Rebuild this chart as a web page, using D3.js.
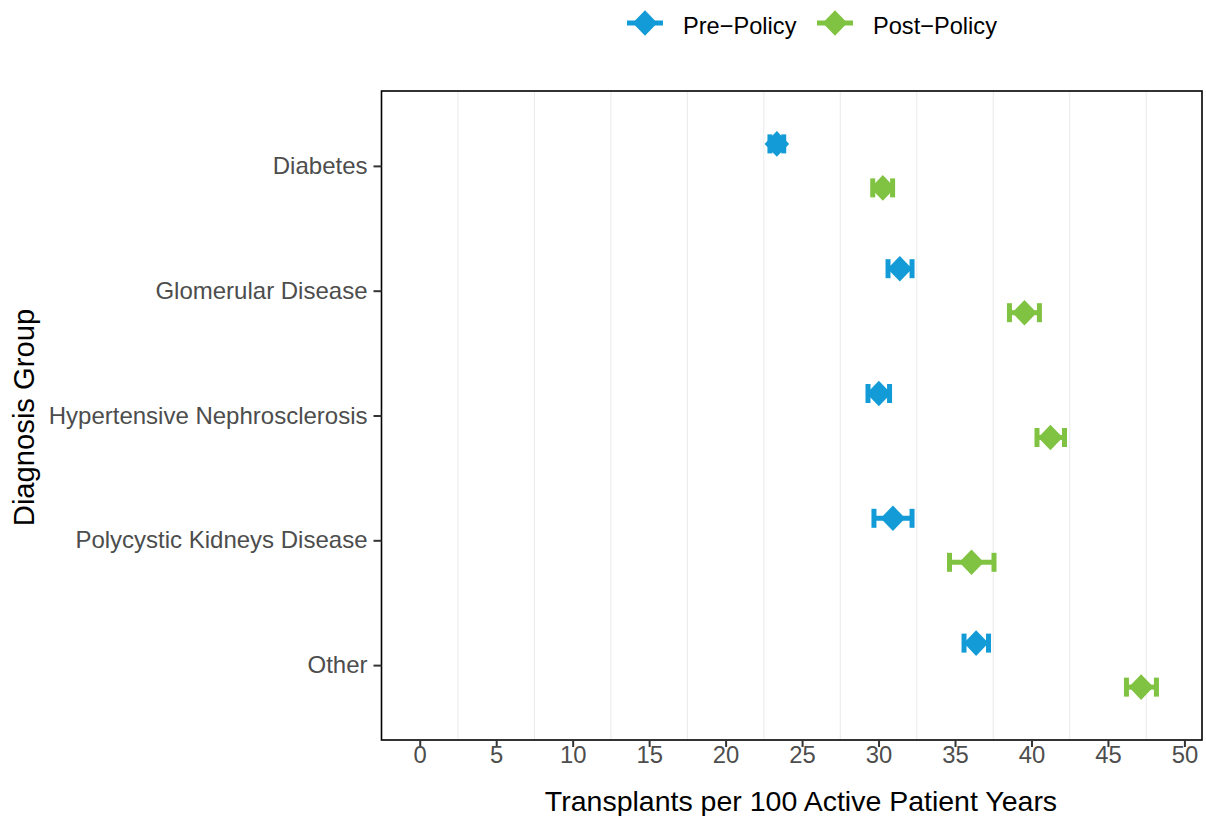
<!DOCTYPE html>
<html>
<head>
<meta charset="utf-8">
<script src="https://cdn.jsdelivr.net/npm/d3@7"></script>
<style>
  body { margin: 0; background: #fff; }
  text { font-family: "Liberation Sans", Arial, sans-serif; }
</style>
</head>
<body>
<div id="chart"></div>
<script>
// Data
const categories = ["Diabetes", "Glomerular Disease", "Hypertensive Nephrosclerosis", "Polycystic Kidneys Disease", "Other"];
const groups = ["Pre\u2212Policy", "Post\u2212Policy"];
const preRate  = [23.35, 31.39, 30.02, 30.94, 36.38];
const preLow   = [22.90, 30.62, 29.31, 29.70, 35.59];
const preHigh  = [23.80, 32.19, 30.72, 32.19, 37.19];
const postRate = [30.28, 39.54, 41.24, 36.08, 47.17];
const postLow  = [29.62, 38.56, 40.36, 34.64, 46.21];
const postHigh = [30.92, 40.52, 42.16, 37.55, 48.17];
const xTicks = [0, 5, 10, 15, 20, 25, 30, 35, 40, 45, 50];
const gridTicks = [2.5, 7.5, 12.5, 17.5, 22.5, 27.5, 32.5, 37.5, 42.5, 47.5];
const colors = ["#129bd7", "#80c342"];

const rows = [];
categories.forEach((c, i) => {
    rows.push({cat: c, group: groups[0], rate: preRate[i], lo: preLow[i], hi: preHigh[i]});
    rows.push({cat: c, group: groups[1], rate: postRate[i], lo: postLow[i], hi: postHigh[i]});
});

const W = 1206, H = 816;
const panel = {left: 381.5, right: 1202, top: 91, bottom: 740};

const svg = d3.select("#chart").append("svg")
    .attr("width", W).attr("height", H);

const x = d3.scaleLinear().domain([-2.5, 51.15]).range([panel.left, panel.right]);
const y = d3.scalePoint().domain(categories).range([panel.top, panel.bottom]).padding(0.6);
const dodge = d3.scalePoint().domain(groups).range([-22, 22]);
const color = d3.scaleOrdinal().domain(groups).range(colors);

// grid lines
svg.append("g").selectAll("line")
    .data(gridTicks).enter().append("line")
    .attr("x1", d => x(d)).attr("x2", d => x(d))
    .attr("y1", panel.top).attr("y2", panel.bottom)
    .attr("stroke", "#ebebeb").attr("stroke-width", 1.1);

// error bars
const capH = 9.5;
const eb = svg.append("g").selectAll("g")
    .data(rows).enter().append("g")
    .attr("stroke", d => color(d.group))
    .attr("stroke-width", 5);
eb.append("line")
    .attr("x1", d => x(d.lo)).attr("x2", d => x(d.hi))
    .attr("y1", d => y(d.cat) + dodge(d.group)).attr("y2", d => y(d.cat) + dodge(d.group));
eb.append("line")
    .attr("x1", d => x(d.lo)).attr("x2", d => x(d.lo))
    .attr("y1", d => y(d.cat) + dodge(d.group) - capH).attr("y2", d => y(d.cat) + dodge(d.group) + capH);
eb.append("line")
    .attr("x1", d => x(d.hi)).attr("x2", d => x(d.hi))
    .attr("y1", d => y(d.cat) + dodge(d.group) - capH).attr("y2", d => y(d.cat) + dodge(d.group) + capH);

// diamonds
const diamond = "M0,-12.8L12.3,0L0,12.8L-12.3,0Z";
svg.append("g").selectAll("path")
    .data(rows).enter().append("path")
    .attr("d", diamond)
    .attr("transform", d => `translate(${x(d.rate)},${y(d.cat) + dodge(d.group)})`)
    .attr("fill", d => color(d.group));

// panel border
svg.append("rect")
    .attr("x", panel.left).attr("y", panel.top)
    .attr("width", panel.right - panel.left).attr("height", panel.bottom - panel.top)
    .attr("fill", "none").attr("stroke", "#000").attr("stroke-width", 1.6);

// x axis
const xa = svg.append("g").attr("transform", `translate(0,${panel.bottom})`)
    .call(d3.axisBottom(x).tickValues(xTicks).tickSize(7).tickPadding(4).tickFormat(d3.format("d")));
xa.select(".domain").remove();
xa.selectAll(".tick line").attr("stroke", "#333").attr("stroke-width", 2);
xa.selectAll(".tick text").attr("fill", "#4d4d4d").style("font-size", "23.8px")
    .attr("y", 23).attr("dy", 0);

// y axis
const ya = svg.append("g").attr("transform", `translate(${panel.left},0)`)
    .call(d3.axisLeft(y).tickSize(8).tickPadding(6));
ya.select(".domain").remove();
ya.selectAll(".tick line").attr("stroke", "#333").attr("stroke-width", 2);
ya.selectAll(".tick text").attr("fill", "#4d4d4d").style("font-size", "24px").attr("dy", "0.32em");

// axis titles
svg.append("text")
    .attr("x", 801).attr("y", 810.5)
    .attr("text-anchor", "middle").style("font-size", "28.5px").attr("fill", "#000")
    .text("Transplants per 100 Active Patient Years");
svg.append("text")
    .attr("transform", `translate(34,417.5) rotate(-90)`)
    .attr("text-anchor", "middle").style("font-size", "29.2px").attr("fill", "#000")
    .text("Diagnosis Group");

// legend
const legendX = [645, 835];
const lg = svg.append("g").selectAll("g")
    .data(groups).enter().append("g")
    .attr("transform", (d, i) => `translate(${legendX[i]},23)`);
lg.append("line")
    .attr("x1", -18).attr("x2", 18)
    .attr("stroke", d => color(d)).attr("stroke-width", 5);
lg.append("path").attr("d", diamond).attr("fill", d => color(d));
lg.append("text")
    .attr("x", 38).attr("y", 10.5)
    .style("font-size", "23.6px").attr("fill", "#000")
    .text(d => d);
</script>
</body>
</html>
